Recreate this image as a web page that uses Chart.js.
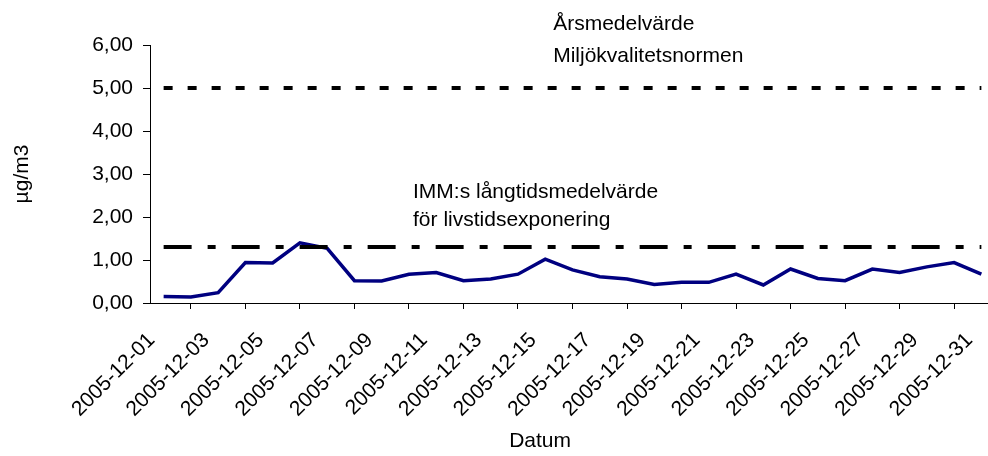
<!DOCTYPE html>
<html>
<head>
<meta charset="utf-8">
<script src="https://cdn.jsdelivr.net/npm/chart.js@4"></script>
<style>
  body { margin: 0; overflow: hidden; background: #fff; }
  #wrap { width: 996px; height: 456px; }
</style>
</head>
<body>
<div id="wrap"><canvas id="miGrafica" width="996" height="456"></canvas></div>
<script>
// Datos
const fechas = [];
for (let d = 1; d <= 31; d++) {
    fechas.push('2005-12-' + String(d).padStart(2, '0'));
}
const halter = [0.15, 0.14, 0.24, 0.94, 0.93, 1.40, 1.27, 0.52, 0.51, 0.67,
                0.71, 0.52, 0.56, 0.67, 1.02, 0.77, 0.61, 0.56, 0.43, 0.48,
                0.48, 0.67, 0.42, 0.79, 0.57, 0.52, 0.79, 0.71, 0.84, 0.94, 0.67];
const miljonorm = 5.0;   // Årsmedelvärde Miljökvalitetsnormen
const immVarde = 1.3;    // IMM:s långtidsmedelvärde
const yTicks = [0, 1, 2, 3, 4, 5, 6];

// textos: [texto, índice x, valor y, alineación]
const anotaciones = [
    ['Årsmedelvärde', 14.29, 6.35, 'left'],
    ['Miljökvalitetsnormen', 14.29, 5.6, 'left'],
    ['IMM:s långtidsmedelvärde', 9.15, 2.44, 'left'],
    ['för livstidsexponering', 9.15, 1.79, 'left'],
    ['Datum', 13.81, -3.35, 'center']
];

const fuente = '"Liberation Sans", Arial, sans-serif';

const textos = {
    id: 'textos',
    afterDraw(chart) {
        const ctx = chart.ctx;
        const x = chart.scales.x, y = chart.scales.y;
        ctx.save();
        ctx.font = '21px ' + fuente;
        ctx.fillStyle = '#000';
        ctx.textBaseline = 'alphabetic';
        anotaciones.forEach(a => {
            ctx.textAlign = a[3];
            ctx.fillText(a[0], x.getPixelForValue(a[1]), y.getPixelForValue(a[2]));
        });
        ctx.restore();
    }
};

const ctx = document.getElementById('miGrafica').getContext('2d');
new Chart(ctx, {
    type: 'line',
    data: {
        labels: fechas,
        datasets: [{
            data: halter,
            borderColor: '#000080',
            borderWidth: 3.5,
            pointRadius: 0,
            tension: 0,
            fill: false,
            order: 2
        }, {
            data: fechas.map(() => miljonorm),
            borderColor: '#000',
            borderWidth: 4,
            borderDash: [9, 15],
            borderCapStyle: 'butt',
            pointRadius: 0,
            fill: false,
            order: 1
        }, {
            data: fechas.map(() => immVarde),
            borderColor: '#000',
            borderWidth: 4,
            borderDash: [28, 16, 8, 16],
            borderCapStyle: 'butt',
            pointRadius: 0,
            fill: false,
            order: 1
        }]
    },
    options: {
        responsive: false,
        animation: false,
        devicePixelRatio: 1,
        // el lienzo es algo más ancho que la ventana: el eje sigue tras el borde derecho
        layout: { padding: { top: 45, left: 0, right: 1, bottom: 0 } },
        plugins: { legend: { display: false }, tooltip: { enabled: false } },
        scales: {
            x: {
                offset: true,
                grid: { offset: true, drawOnChartArea: false, tickLength: 6, color: '#000', lineWidth: 1 },
                border: { display: true, color: '#000' },
                ticks: {
                    autoSkip: false,
                    minRotation: 45,
                    maxRotation: 45,
                    padding: 19,
                    labelOffset: -12,
                    color: '#000',
                    font: { family: fuente, size: 21 },
                    callback: function(v, i) { return i % 2 === 0 ? fechas[i] : null; }
                },
                afterFit(scale) {
                    scale.height = 153;
                    scale.paddingLeft = 0;
                    scale.paddingRight = 0;
                }
            },
            y: {
                min: 0,
                max: 6,
                afterBuildTicks(scale) { scale.ticks = yTicks.map(v => ({ value: v })); },
                grid: { drawOnChartArea: false, tickLength: 7, color: '#000' },
                border: { display: true, color: '#000' },
                ticks: {
                    padding: 10,
                    color: '#000',
                    font: { family: fuente, size: 21 },
                    callback: v => v.toFixed(2).replace('.', ',')
                },
                title: {
                    display: true,
                    text: 'µg/m3',
                    color: '#000',
                    font: { family: fuente, size: 21 },
                    padding: { top: 10, bottom: 0 }
                },
                afterFit(scale) { scale.width = 150; }
            }
        }
    },
    plugins: [textos]
});
</script>
</body>
</html>
